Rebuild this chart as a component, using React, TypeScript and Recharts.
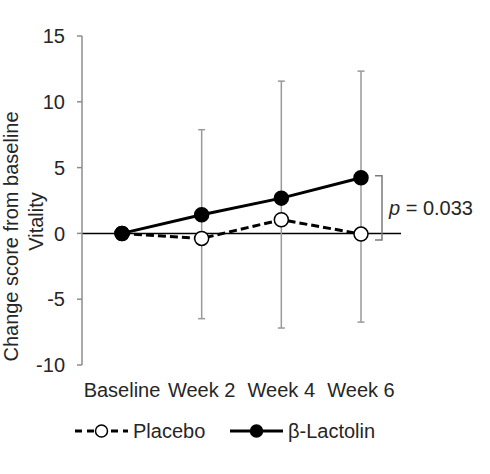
import React from 'react';
import { LineChart, Line, XAxis, YAxis, ErrorBar, ReferenceLine, Legend } from 'recharts';

const categories = ['Baseline', 'Week 2', 'Week 4', 'Week 6'];
const placebo = [0, -0.38, 1.04, -0.05];
const lactolin = [0, 1.42, 2.68, 4.23];
const whiskerHigh = [0, 7.88, 11.57, 12.33];
const whiskerLow = [0, -6.48, -7.19, -6.74];
const yTicks = [-10, -5, 0, 5, 10, 15];
const bracketTop = 4.38;
const bracketBottom = -0.5;
const pLabel = '= 0.033';

const data = categories.map((c, i) => ({
  name: c,
  placebo: placebo[i],
  lactolin: lactolin[i],
  err: [placebo[i] - whiskerLow[i], whiskerHigh[i] - placebo[i]],
}));

const FONT = '"Liberation Sans", Arial, sans-serif';
const TXT = '#262626';

const YTitle = (props: any) => {
  const vb = props.viewBox || { x: 0, y: 0, width: 0, height: 0 };
  const cy = vb.y + vb.height / 2;
  const c1 = cy + 36;
  const c2 = cy + 21;
  return (
    <g fontFamily={FONT} fontSize={20} fill={TXT}>
      <text x={11} y={c1} transform={`rotate(-90 11 ${c1})`} textAnchor="middle" dominantBaseline="central">
        Change score from baseline
      </text>
      <text x={36} y={c2} transform={`rotate(-90 36 ${c2})`} textAnchor="middle" dominantBaseline="central">
        Vitality
      </text>
    </g>
  );
};

const Bracket = (props: any) => {
  const x = props.x1 + 21;
  const yt = Math.min(props.y1, props.y2);
  const yb = Math.max(props.y1, props.y2);
  const mid = (yt + yb) / 2;
  return (
    <g>
      <path d={`M${x - 7},${yt} L${x},${yt} L${x},${yb} L${x - 7},${yb}`} fill="none" stroke="#7a7a7a" strokeWidth={1.5} />
      <text x={x + 7} y={mid + 7} fontFamily={FONT} fontSize={20} fill={TXT}>
        <tspan fontStyle="italic">p</tspan>
        <tspan> {pLabel}</tspan>
      </text>
    </g>
  );
};

const LegendContent = (props: any) => {
  const payload = props.payload || [];
  const lefts = [75, 230];
  return (
    <div style={{ position: 'relative', height: 24, width: 490, fontFamily: FONT, fontSize: 20, color: TXT }}>
      {payload.map((p: any, i: number) => {
        const isPlacebo = p.value === 'Placebo';
        return (
          <div key={p.value} style={{ position: 'absolute', left: lefts[i], top: 0, display: 'flex', alignItems: 'center', height: 24 }}>
            <svg width={53} height={20} style={{ display: 'block' }}>
              <line x1={0} y1={10} x2={53} y2={10} stroke="#000" strokeWidth={3} strokeDasharray={isPlacebo ? '7 5' : undefined} />
              <circle cx={26.5} cy={10} r={6} fill={isPlacebo ? '#fff' : '#000'} stroke="#000" strokeWidth={1.5} />
            </svg>
            <span style={{ marginLeft: 5, lineHeight: '24px' }}>{p.value}</span>
          </div>
        );
      })}
    </div>
  );
};

export default function App() {
  return (
    <div style={{ position: 'absolute', left: 0, top: 0, width: 490, height: 474, background: '#fff' }}>
      <LineChart width={490} height={474} data={data} margin={{ top: 36, right: 89, left: 0, bottom: 69 }}>
        <XAxis
          dataKey="name"
          axisLine={false}
          tickLine={false}
          height={40}
          tickMargin={12}
          padding={{ left: 40, right: 40 }}
          tick={{ fontFamily: FONT, fontSize: 20, fill: TXT }}
          interval={0}
        />
        <YAxis
          domain={[-10, 15]}
          ticks={yTicks}
          width={82}
          tickSize={5}
          tickMargin={12}
          axisLine={{ stroke: '#8c8c8c', strokeWidth: 1.5 }}
          tickLine={{ stroke: '#8c8c8c', strokeWidth: 1.5 }}
          tick={{ fontFamily: FONT, fontSize: 20, fill: TXT }}
          label={<YTitle />}
        />
        <ReferenceLine y={0} stroke="#000" strokeWidth={1.5} />
        <ReferenceLine
          segment={[{ x: 'Week 6', y: bracketTop }, { x: 'Week 6', y: bracketBottom }]}
          shape={<Bracket />}
        />
        <Line
          dataKey="placebo"
          name="Placebo"
          stroke="#000"
          strokeWidth={3}
          strokeDasharray="8 4"
          dot={{ r: 7, fill: '#fff', stroke: '#000', strokeWidth: 1.5, strokeDasharray: '0' }}
          isAnimationActive={false}
        >
          <ErrorBar dataKey="err" direction="y" width={3.5} stroke="#999" strokeWidth={1.5} />
        </Line>
        <Line
          dataKey="lactolin"
          name="β-Lactolin"
          stroke="#000"
          strokeWidth={3}
          dot={{ r: 7, fill: '#000', stroke: '#000', strokeWidth: 1.5 }}
          isAnimationActive={false}
        />
        <Legend
          layout="horizontal"
          verticalAlign="middle"
          align="center"
          content={<LegendContent />}
          wrapperStyle={{ top: 419, left: 0, width: 490 }}
        />
      </LineChart>
    </div>
  );
}
